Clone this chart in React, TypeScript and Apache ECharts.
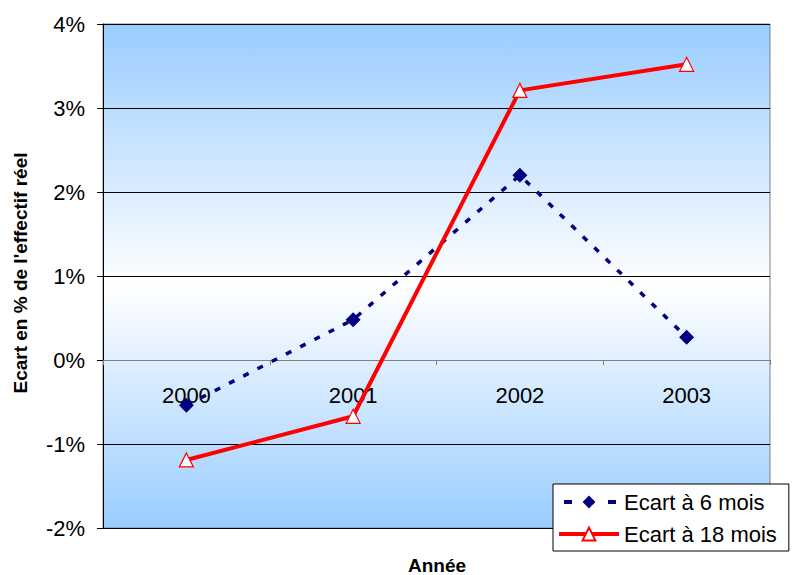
import React, { useEffect, useRef } from "react";
import * as echarts from "echarts";

const categories = ["2000", "2001", "2002", "2003"];
const ecart6 = [-0.54, 0.48, 2.2, 0.27];
const ecart18 = [-1.19, -0.67, 3.21, 3.52];
const seriesNames = ["Ecart à 6 mois", "Ecart à 18 mois"];
const yTitle = "Ecart en % de l'effectif réel";
const xTitle = "Année";

const FONT = "Arial, 'Liberation Sans', sans-serif";

export default function App() {
  const ref = useRef<HTMLDivElement>(null);
  useEffect(() => {
    if (!ref.current) return;
    const chart = echarts.init(ref.current, null, { renderer: "svg" });
    chart.setOption({
      animation: false,
      backgroundColor: "#ffffff",
      textStyle: { fontFamily: FONT },
      grid: {
        left: 103,
        right: 22,
        top: 24,
        bottom: 47,
        show: true,
        borderColor: "#808080",
        borderWidth: 1,
        backgroundColor: {
          type: "linear",
          x: 0,
          y: 0,
          x2: 0,
          y2: 1,
          colorStops: [
            { offset: 0, color: "#99CCFF" },
            { offset: 0.52, color: "#FFFFFF" },
            { offset: 1, color: "#99CCFF" },
          ],
        },
      },
      xAxis: {
        type: "category",
        data: categories,
        boundaryGap: true,
        offset: -168,
        axisLine: { onZero: false, lineStyle: { color: "#808080", width: 1 } },
        axisTick: { show: true, inside: false, length: 5, lineStyle: { color: "#808080" } },
        axisLabel: { color: "#000", fontSize: 22, fontFamily: FONT, margin: 24 },
        splitLine: { show: false },
      },
      yAxis: {
        type: "value",
        min: -2,
        max: 4,
        interval: 1,
        axisLine: { show: true, lineStyle: { color: "#000", width: 1 } },
        axisTick: { show: true, inside: false, length: 6, lineStyle: { color: "#000" } },
        axisLabel: {
          color: "#000",
          fontSize: 22,
          fontFamily: FONT,
          margin: 18,
          formatter: "{value}%",
        },
        splitLine: { show: true, lineStyle: { color: "#000", width: 1 } },
      },
      legend: {
        orient: "vertical",
        left: 553,
        top: 484,
        backgroundColor: "#ffffff",
        borderColor: "#000",
        borderWidth: 1,
        borderRadius: 0,
        padding: [7, 12, 6, 4],
        itemGap: 10,
        itemWidth: 60,
        itemHeight: 16,
        textStyle: { color: "#000", fontSize: 22, fontFamily: FONT },
        data: [
          {
            name: seriesNames[0],
            lineStyle: { width: 4, type: [8, 14], dashOffset: -5 },
          },
          {
            name: seriesNames[1],
            lineStyle: { width: 4 },
          },
        ],
      },
      series: [
        {
          name: seriesNames[0],
          type: "line",
          data: ecart6,
          symbol: "diamond",
          symbolSize: 15,
          itemStyle: { color: "#000080" },
          lineStyle: { color: "#000080", width: 3.5, type: [6, 10] },
          z: 3,
        },
        {
          name: seriesNames[1],
          type: "line",
          data: ecart18,
          symbol: "triangle",
          symbolSize: 14,
          itemStyle: { color: "#FFFFFF", borderColor: "#FF0000", borderWidth: 1.2 },
          lineStyle: { color: "#FF0000", width: 4 },
          z: 4,
        },
      ],
      graphic: [
        {
          type: "text",
          x: 20,
          y: 273,
          rotation: Math.PI / 2,
          style: {
            text: yTitle,
            fontSize: 19,
            fontWeight: "bold",
            fontFamily: FONT,
            fill: "#000",
            align: "center",
            verticalAlign: "middle",
          },
        },
        {
          type: "text",
          x: 437,
          y: 565,
          style: {
            text: xTitle,
            fontSize: 19,
            fontWeight: "bold",
            fontFamily: FONT,
            fill: "#000",
            align: "center",
            verticalAlign: "middle",
          },
        },
      ],
    });
    return () => chart.dispose();
  }, []);
  return (
    <div
      ref={ref}
      style={{ position: "absolute", left: 0, top: 0, width: 792, height: 575 }}
    />
  );
}
